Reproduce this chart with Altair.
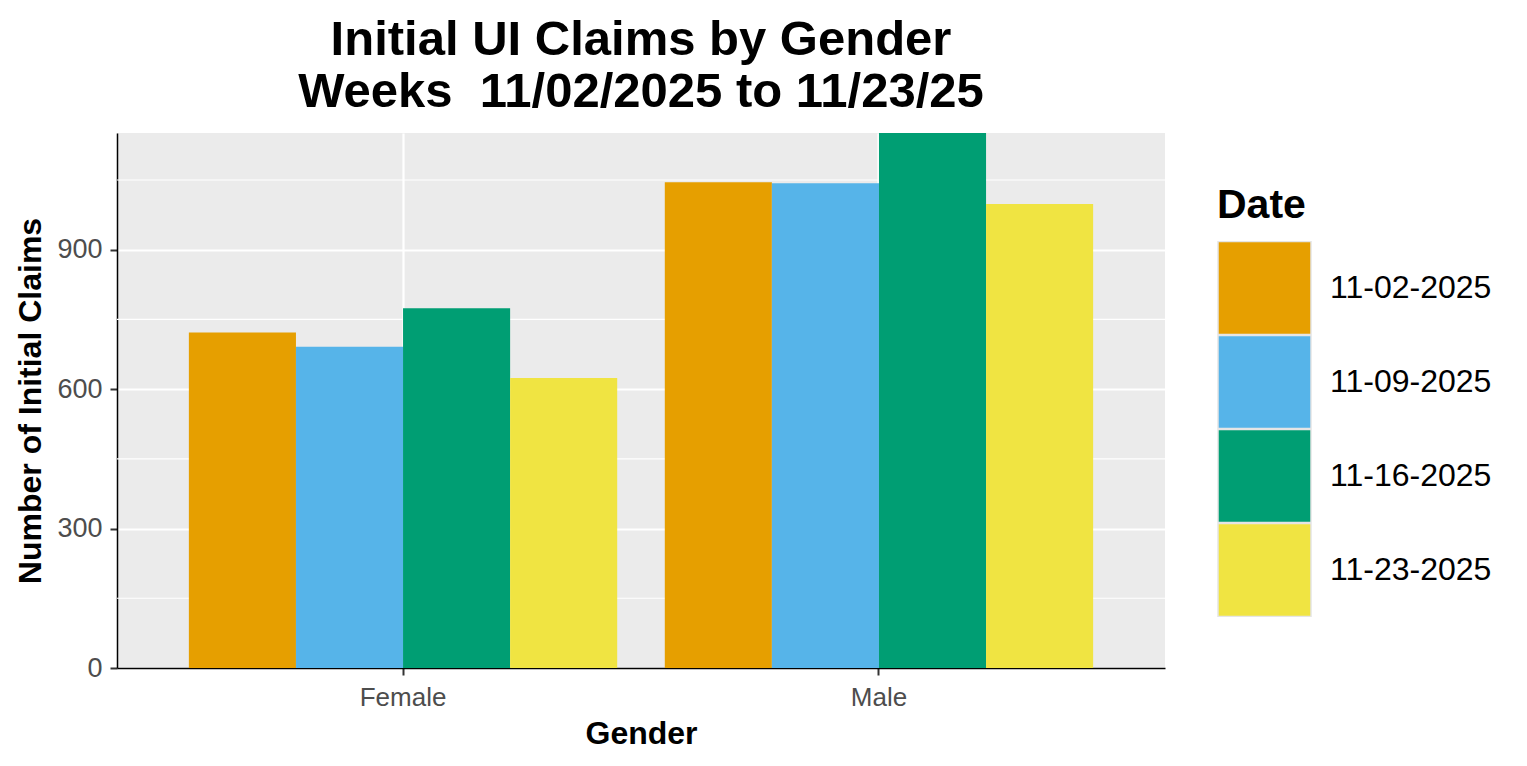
import altair as alt
import pandas as pd

genders = ["Female", "Male"]
dates = ["11-02-2025", "11-09-2025", "11-16-2025", "11-23-2025"]
female_claims = [722, 691, 774, 624]
male_claims = [1045, 1043, 1151, 998]
colors = ["#E69F00", "#56B4E9", "#009E73", "#F0E442"]
y_ticks = [0, 300, 600, 900]
y_minor = [150, 450, 750, 1050]

rows = []
for d, f, m in zip(dates, female_claims, male_claims):
    rows.append({"Gender": "Female", "Date": d, "Claims": f})
    rows.append({"Gender": "Male", "Date": d, "Claims": m})
df = pd.DataFrame(rows)
minor_df = pd.DataFrame({"v": y_minor})

FONT = "Liberation Sans"
ymax = max(male_claims + female_claims)
yscale = alt.Scale(domain=[0, ymax], nice=False, zero=True)

minor = alt.Chart(minor_df).mark_rule(color="white", strokeWidth=1.1).encode(
    y=alt.Y("v:Q", scale=yscale)
)

bars = alt.Chart(df).mark_bar().encode(
    x=alt.X(
        "Gender:N",
        sort=genders,
        scale=alt.Scale(paddingInner=0.1, paddingOuter=0.151),
        axis=alt.Axis(
            title="Gender",
            titleFont=FONT, titleFontSize=32, titleFontWeight="bold", titleColor="black",
            titlePadding=8,
            labelFont=FONT, labelFontSize=26, labelColor="#4D4D4D", labelAngle=0,
            labelPadding=9,
            domainColor="black", domainWidth=1.5,
            tickColor="#333333", tickSize=7, tickWidth=2,
            grid=True, gridColor="white", gridWidth=2.2, bandPosition=0.5,
        ),
    ),
    xOffset=alt.XOffset("Date:N", sort=dates, scale=alt.Scale(paddingInner=0, paddingOuter=0)),
    y=alt.Y(
        "Claims:Q",
        scale=yscale,
        axis=alt.Axis(
            title="Number of Initial Claims",
            values=y_ticks,
            titleFont=FONT, titleFontSize=32, titleFontWeight="bold", titleColor="black",
            titlePadding=9,
            labelFont=FONT, labelFontSize=27, labelColor="#4D4D4D",
            labelPadding=8,
            domainColor="black", domainWidth=1.5,
            tickColor="#333333", tickSize=7, tickWidth=2,
            grid=True, gridColor="white", gridWidth=2.2,
        ),
    ),
    color=alt.Color(
        "Date:N",
        sort=dates,
        scale=alt.Scale(domain=dates, range=colors),
        legend=alt.Legend(
            title="Date",
            orient="none", legendX=1100, legendY=53,
            titleFont=FONT, titleFontSize=41, titleFontWeight="bold", titleColor="black",
            titlePadding=14,
            labelFont=FONT, labelFontSize=32, labelColor="black", labelOffset=18,
            labelLimit=400,
            symbolType="square", symbolSize=8649, symbolStrokeColor="#E5E5E5",
            symbolStrokeWidth=1.5, symbolOpacity=1, rowPadding=0, clipHeight=94,
        ),
    ),
)

chart = alt.layer(minor, bars).properties(
    width=1048,
    height=535,
    title=alt.TitleParams(
        text=["Initial UI Claims by Gender", "Weeks\u00a0\u00a011/02/2025 to 11/23/25"],
        font=FONT, fontSize=49, fontWeight="bold", color="black",
        anchor="middle", lineHeight=52, offset=16,
    ),
    autosize=alt.AutoSizeParams(type="none"),
    padding={"left": 109, "top": 125, "right": 350, "bottom": 90},
).configure_view(
    fill="#EBEBEB", stroke=None
)

chart.save("out.html", embed_options={"renderer": "svg", "actions": False})
